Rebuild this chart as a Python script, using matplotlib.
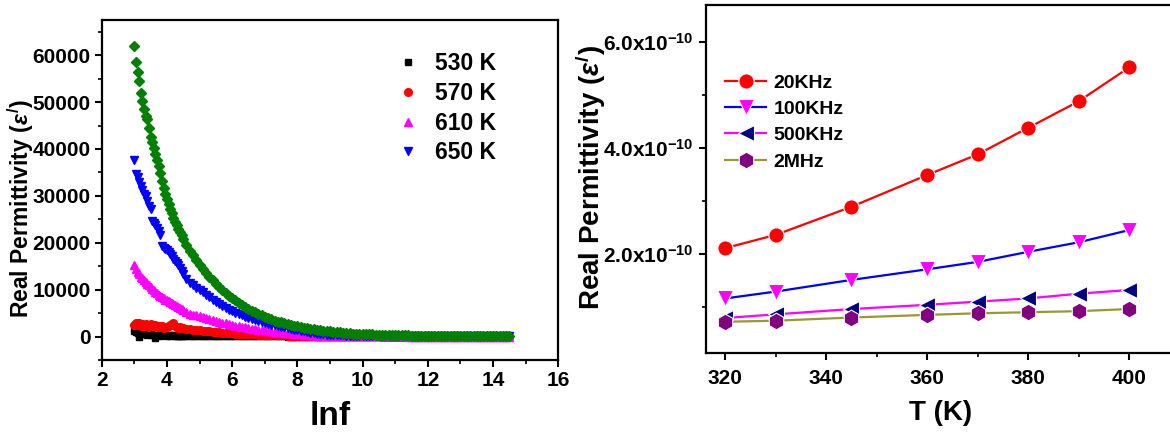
import numpy as np
import matplotlib
matplotlib.use("Agg")
import matplotlib.pyplot as plt
from matplotlib.ticker import MultipleLocator, FixedLocator, FuncFormatter

plt.rcParams["font.family"] = ["Liberation Sans", "DejaVu Sans"]
plt.rcParams["font.weight"] = "bold"
plt.rcParams["mathtext.fontset"] = "custom"
plt.rcParams["mathtext.rm"] = "Liberation Sans:bold"
plt.rcParams["mathtext.it"] = "Liberation Sans:italic:bold"
plt.rcParams["mathtext.bf"] = "Liberation Sans:bold"

# ---- left panel: permittivity vs ln f ----
lnf = np.round(np.concatenate([np.arange(3.0, 4.49, 0.05),
                               np.arange(4.5, 14.55, 0.1)]), 2)

eps_530 = [1100, 900, 700, -200, 800, 600, 500, 700, 400, 600,
           500, 300, 400, -250, 300, 400, 200, 350, 250, 300,
           200, 250, 150, 300, 400, 200, 150, 100, 150, 100,
           100, 95, 90, 85, 80, 75, 70, 65, 60, 55,
           50, 48, 45, 42, 40, 38, 35, 32, 30, 28,
           26, 24, 22, 20, 18, 17, 16, 15, 14, 13,
           12, 11, 10, 10, 9, 9, 8, 8, 7, 7,
           6, 6, 5, 5, 5,
           4, 4, 4, 4, 3, 3, 3, 3, 3, 3,
           3, 3, 2, 2, 2, 2, 2, 2, 2, 2,
           2, 2, 2, 2, 2, 1, 1, 1, 1, 1,
           1, 1, 1, 1, 1, 1, 1, 1, 1, 1,
           1, 1, 1, 1, 1, 1, 1, 1, 1, 1,
           1, 1, 1, 1, 1, 1]
eps_570 = [2400, 2900, 2500, 2800, 2300, 2700, 2200, 2600, 2500, 2100,
           2600, 2400, 2200, 2500, 2100, 2300, 2000, 2200, 1900, 2100,
           2000, 2200, 2400, 2700, 2900, 2300, 2000, 1900, 2000, 1800,
           1800, 1700, 1600, 1500, 1400, 1300, 1230, 1160, 1100, 1040,
           980, 920, 860, 800, 750, 700, 650, 610, 570, 530,
           500, 470, 440, 410, 380, 350, 330, 310, 290, 270,
           250, 230, 210, 190, 170, 150, 135, 120, 105, 90,
           80, 70, 60, 55, 50,
           46, 42, 38, 34, 31, 28, 25, 23, 21, 19,
           17, 16, 14, 13, 12, 11, 10, 10, 9, 9,
           8, 8, 7, 7, 6, 6, 5, 5, 5, 5,
           4, 4, 4, 4, 4, 3, 3, 3, 3, 3,
           3, 3, 2, 2, 2, 2, 2, 2, 2, 2,
           2, 2, 2, 2, 2, 2]
eps_610 = [15200, 14300, 13800, 13300, 12800, 12400, 12000, 11600, 11200, 10900,
           10500, 10200, 9900, 9500, 9200, 8900, 8700, 8400, 8200, 7900,
           7700, 7500, 7300, 7100, 6900, 6700, 6500, 6300, 6100, 5900,
           5700, 5300, 4900, 4700, 4500, 4300, 4100, 3850, 3650, 3450,
           3250, 3100, 2950, 2800, 2650, 2500, 2350, 2200, 2080, 1950,
           1830, 1700, 1600, 1500, 1400, 1300, 1200, 1110, 1030, 950,
           880, 810, 740, 680, 620, 520, 460, 400, 340, 290,
           240, 200, 170, 140, 120,
           110, 100, 90, 80, 70, 62, 55, 48, 43, 38,
           34, 30, 28, 25, 23, 21, 19, 18, 16, 15,
           14, 13, 12, 11, 10, 10, 9, 9, 8, 8,
           7, 7, 6, 6, 6, 6, 5, 5, 5, 5,
           4, 4, 4, 4, 4, 4, 3, 3, 3, 3,
           3, 3, 3, 3, 3, 3]
eps_650 = [37600, 34700, 34000, 32900, 32000, 31200, 30500, 29900, 28800, 27900,
           27200, 24700, 24300, 23800, 23200, 22600, 21600, 19300, 18900, 18700,
           18500, 18000, 17600, 17200, 16600, 16200, 15700, 15200, 14600, 14000,
           13400, 12200, 11500, 10900, 10400, 9900, 9400, 8900, 8400, 7900,
           7300, 6900, 6500, 6100, 5750, 5400, 5100, 4800, 4500, 4250,
           4000, 3750, 3500, 3300, 3100, 2900, 2700, 2550, 2400, 2250,
           2100, 1950, 1800, 1650, 1500, 1360, 1230, 1100, 980, 860,
           750, 650, 560, 480, 410,
           370, 330, 300, 270, 245, 220, 200, 180, 160, 145,
           132, 120, 110, 100, 92, 85, 78, 72, 67, 62,
           58, 55, 51, 48, 45, 42, 40, 38, 36, 34,
           32, 30, 29, 28, 27, 26, 25, 24, 23, 22,
           21, 20, 20, 19, 19, 18, 18, 17, 17, 16,
           16, 15, 15, 14, 14, 13]
eps_690 = [61900, 58600, 56400, 54500, 52000, 50300, 48600, 47000, 46300, 44500,
           42600, 41500, 40300, 38900, 37600, 36300, 34800, 33200, 31600, 30500,
           29300, 28200, 27200, 26300, 25300, 24500, 23700, 23000, 22300, 21600,
           20900, 19500, 18300, 17300, 16300, 15300, 14400, 13500, 12700, 12000,
           11300, 10600, 9950, 9300, 8750, 8200, 7700, 7200, 6750, 6300,
           5900, 5500, 5150, 4800, 4500, 4200, 3900, 3650, 3400, 3200,
           3000, 2800, 2620, 2450, 2300, 2150, 2000, 1870, 1750, 1630,
           1520, 1420, 1330, 1240, 1160,
           1080, 1000, 930, 870, 810, 750, 700, 650, 610, 570,
           530, 500, 470, 440, 410, 380, 360, 340, 320, 300,
           285, 270, 255, 240, 225, 210, 200, 190, 180, 170,
           162, 155, 148, 140, 132, 125, 120, 115, 110, 105,
           100, 95, 92, 88, 84, 80, 76, 72, 68, 65,
           62, 60, 58, 55, 52, 50]

# ---- right panel: permittivity vs temperature ----
temps = [320, 330, 345, 360, 370, 380, 390, 400]
eps_20k = [2.11e-10, 2.36e-10, 2.89e-10, 3.49e-10, 3.88e-10, 4.38e-10, 4.88e-10, 5.52e-10]
eps_100k = [1.16e-10, 1.29e-10, 1.51e-10, 1.71e-10, 1.85e-10, 2.04e-10, 2.22e-10, 2.45e-10]
eps_500k = [0.79e-10, 0.86e-10, 0.96e-10, 1.04e-10, 1.10e-10, 1.16e-10, 1.25e-10, 1.32e-10]
eps_2m = [0.72e-10, 0.74e-10, 0.80e-10, 0.85e-10, 0.88e-10, 0.90e-10, 0.92e-10, 0.96e-10]

fig = plt.figure(figsize=(11.7, 4.33), dpi=100)
ax1 = fig.add_axes([0.0869, 0.1686, 0.3903, 0.7852])
ax2 = fig.add_axes([0.6034, 0.1841, 0.4017, 0.8044])

ax1.plot(lnf, eps_530, "s", color="black", ms=5, label="530 K")
ax1.plot(lnf, eps_570, "o", color="#ff0000", ms=5.5, label="570 K")
ax1.plot(lnf, eps_610, "^", color="#ff00ff", ms=6, label="610 K")
ax1.plot(lnf, eps_650, "v", color="#0000ff", ms=6, label="650 K")
ax1.plot(lnf, eps_690, "D", color="#008000", ms=5.5)

ax1.set_xlim(2, 16)
ax1.set_ylim(-5000, 67500)
ax1.xaxis.set_major_locator(MultipleLocator(2))
ax1.xaxis.set_minor_locator(MultipleLocator(1))
ax1.yaxis.set_major_locator(MultipleLocator(10000))
ax1.yaxis.set_minor_locator(MultipleLocator(5000))
ax1.set_xlabel("lnf", fontsize=24, fontweight="bold")
ax1.xaxis.set_label_coords(0.5, -0.12)
ax1.set_ylabel(r"Real Permittivity ($\varepsilon^{/}$)", fontsize=16.5, fontweight="bold")
ax1.yaxis.set_label_coords(-0.144, 0.445)
ax1.tick_params(axis="x", labelsize=15, pad=3)
ax1.tick_params(axis="y", labelsize=15, pad=3)
leg1 = ax1.legend(loc="upper left", bbox_to_anchor=(0.62, 0.94), frameon=False,
                  fontsize=16.5, handlelength=1, handletextpad=0.7, labelspacing=0.3,
                  numpoints=1, borderpad=0)

ax2.plot(temps, eps_20k, "-o", color="#ff0000", mfc="#ff0000", mec="white", mew=0.8,
         ms=11, lw=1.6, label="20KHz")
ax2.plot(temps, eps_100k, "-v", color="#0000ff", mfc="#ff00ff", mec="white", mew=0.8,
         ms=12, lw=1.6, label="100KHz")
ax2.plot(temps, eps_500k, "-<", color="#ff00ff", mfc="#000080", mec="white", mew=0.8,
         ms=12, lw=1.6, label="500KHz")
ax2.plot(temps, eps_2m, "-h", color="#999933", mfc="#800080", mec="white", mew=0.8,
         ms=12, lw=1.6, label="2MHz")

ax2.set_xlim(316.2, 409.3)
ax2.set_ylim(0.125e-10, 6.70e-10)
ax2.xaxis.set_major_locator(MultipleLocator(20))
ax2.xaxis.set_minor_locator(MultipleLocator(10))
ax2.yaxis.set_major_locator(FixedLocator([2e-10, 4e-10, 6e-10]))
ax2.yaxis.set_minor_locator(FixedLocator([1e-10, 3e-10, 5e-10]))
ax2.yaxis.set_major_formatter(FuncFormatter(lambda v, p: "%.1fx10$^{-10}$" % (v / 1e-10)))
ax2.set_xlabel("T (K)", fontsize=20, fontweight="bold")
ax2.xaxis.set_label_coords(0.5, -0.135)
ax2.set_ylabel(r"Real Permittivity ($\varepsilon^{/}$)", fontsize=20, fontweight="bold")
ax2.yaxis.set_label_coords(-0.208, 0.505)
ax2.tick_params(axis="x", labelsize=15, pad=6)
ax2.tick_params(axis="y", labelsize=15, pad=4)
leg2 = ax2.legend(loc="upper left", bbox_to_anchor=(0.02, 0.83), frameon=False,
                  fontsize=14, handlelength=2.1, handletextpad=0.4, labelspacing=0.45,
                  borderpad=0)

for ax in (ax1, ax2):
    for s in ax.spines.values():
        s.set_linewidth(1.6)
    ax.tick_params(which="major", direction="out", length=5, width=1.5)
    ax.tick_params(which="minor", direction="out", length=3, width=1.2)
    for lab in ax.get_xticklabels() + ax.get_yticklabels():
        lab.set_fontweight("bold")

fig.savefig("out.png", dpi=100)
